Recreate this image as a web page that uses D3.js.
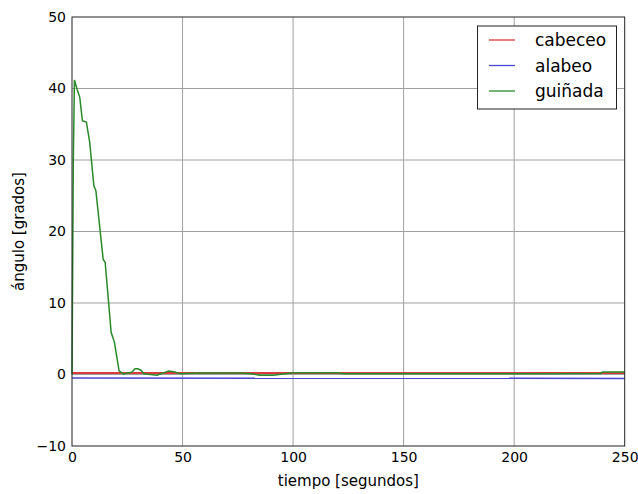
<!DOCTYPE html>
<html><head><meta charset="utf-8">
<script src="https://cdn.jsdelivr.net/npm/d3@7"></script>
<style>body{margin:0;background:#fff}svg{display:block}text{font-family:"DejaVu Sans",sans-serif}</style>
</head><body><svg id="c" width="638" height="494"></svg>
<script>
const xTicks = [0, 50, 100, 150, 200, 250];
const yTicks = [-10, 0, 10, 20, 30, 40, 50];
const seriesNames = ["cabeceo", "alabeo", "guiñada"];
const seriesColors = ["#d83c3c", "#4848d0", "#2a8a2a"];
const cabeceoT = [0, 250];
const cabeceoV = [0.2, 0.2];
const alabeoT = [0, 250];
const alabeoV = [-0.5, -0.55];
const guinadaT = [0, 0.6, 1.1, 2.3, 3.5, 4.7, 6.5, 8, 9.9, 10.8, 14.1, 15, 17.7, 19.2, 21.3, 23.4, 25, 27, 28.5, 29.8, 31.2, 32.5, 35.5, 38.5, 42, 43.7, 46, 49, 57, 64, 76, 81, 85, 91, 100, 120, 123, 150, 200, 239, 240, 250];
const guinadaV = [0, 30, 41.2, 39.9, 38.8, 35.5, 35.3, 32.5, 26.4, 25.7, 16.1, 15.7, 5.9, 4.5, 0.5, 0.05, 0.2, 0.3, 0.8, 0.8, 0.6, 0.1, 0, -0.1, 0.3, 0.5, 0.4, 0.1, 0.2, 0.2, 0.2, 0.1, -0.1, -0.1, 0.25, 0.25, 0.1, 0.1, 0.1, 0.15, 0.35, 0.35];

const svg = d3.select("#c");
const x = d3.scaleLinear().domain([0, 250]).range([72, 624.7]);
const y = d3.scaleLinear().domain([-10, 50]).range([446, 17]);

// grid
const g = svg.append("g");
g.selectAll(".gx").data(xTicks.slice(1, -1)).join("line")
  .attr("x1", d => x(d)).attr("x2", d => x(d)).attr("y1", y(50)).attr("y2", y(-10))
  .attr("stroke", "#a0a0a0").attr("stroke-width", 1);
g.selectAll(".gy").data(yTicks.slice(1, -1)).join("line")
  .attr("y1", d => y(d)).attr("y2", d => y(d)).attr("x1", x(0)).attr("x2", x(250))
  .attr("stroke", "#a0a0a0").attr("stroke-width", 1);

// lines
const series = [[cabeceoT, cabeceoV], [alabeoT, alabeoV], [guinadaT, guinadaV]];
const line = d3.line().x(d => x(d[0])).y(d => y(d[1]));
series.forEach((s, i) => {
  const pts = s[0].map((t, k) => [t, s[1][k]]);
  svg.append("path").datum(pts).attr("d", line).attr("fill", "none")
    .attr("stroke", seriesColors[i]).attr("stroke-width", i === 0 ? 2 : 1.5);
});

// axes
const xAxis = d3.axisBottom(x).tickValues(xTicks).tickSize(0).tickPadding(6).tickFormat(d3.format("d"));
const yAxis = d3.axisLeft(y).tickValues(yTicks).tickSize(0).tickPadding(6).tickFormat(d => d < 0 ? "\u2212" + Math.abs(d) : d);
const ax = svg.append("g").attr("transform", `translate(0,${y(-10)})`).call(xAxis);
const ay = svg.append("g").attr("transform", `translate(${x(0)},0)`).call(yAxis);
[ax, ay].forEach(a => {
  a.select(".domain").remove();
  a.selectAll("text").attr("font-size", 14).attr("fill", "#000").attr("font-family", "DejaVu Sans");
});

// frame
svg.append("rect").attr("x", x(0)).attr("y", y(50)).attr("width", x(250) - x(0)).attr("height", y(-10) - y(50))
  .attr("fill", "none").attr("stroke", "#222").attr("stroke-width", 1);

// axis labels
svg.append("text").attr("x", (x(0) + x(250)) / 2).attr("y", 486).attr("text-anchor", "middle")
  .attr("font-size", 15).text("tiempo [segundos]");
svg.append("text").attr("transform", `translate(24,${(y(-10) + y(50)) / 2}) rotate(-90)`)
  .attr("text-anchor", "middle").attr("font-size", 15).text("ángulo [grados]");

// legend
const lg = svg.append("g");
lg.append("rect").attr("x", 477.5).attr("y", 26).attr("width", 139).attr("height", 83)
  .attr("fill", "#fff").attr("stroke", "#222").attr("stroke-width", 1);
seriesNames.forEach((n, i) => {
  const yy = 40 + i * 25.5;
  lg.append("line").attr("x1", 489).attr("x2", 515).attr("y1", yy).attr("y2", yy)
    .attr("stroke", seriesColors[i]).attr("stroke-width", 1.3);
  lg.append("text").attr("x", 535).attr("y", yy + 6).attr("font-size", 17).text(n);
});
</script></body></html>
